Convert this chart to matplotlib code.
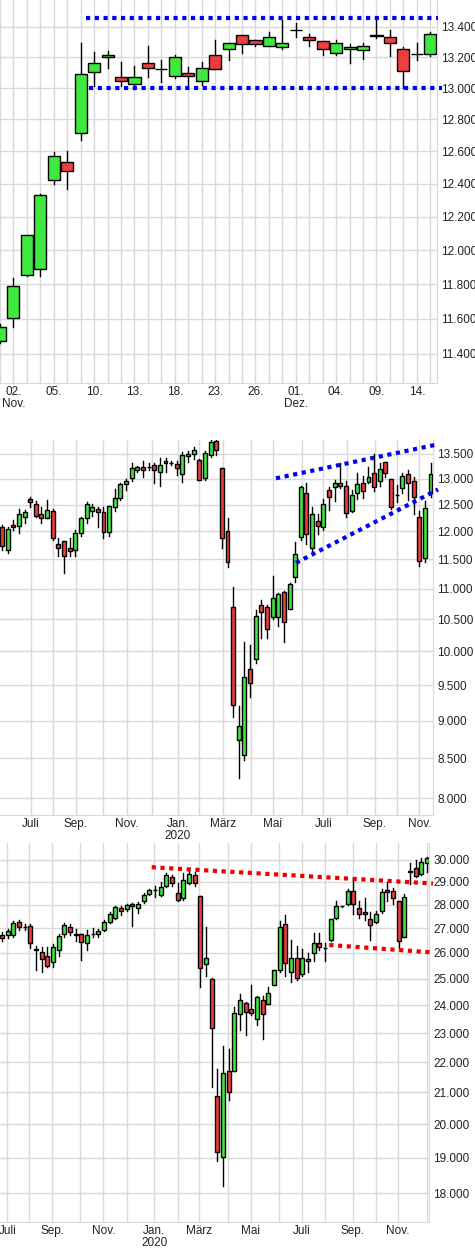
import numpy as np
import matplotlib
matplotlib.use('Agg')
import matplotlib.pyplot as plt
from matplotlib.patches import Rectangle
from matplotlib.ticker import FixedLocator, NullLocator, NullFormatter

plt.rcParams['font.family'] = ['Liberation Sans', 'DejaVu Sans']

GREEN = '#3ee83e'
RED = '#ee3e3e'
GRID = '#d9d9d9'

# Panel 1: daily candles, Oct 30 .. Dec 15
d_open = [11475, 11604, 11855, 11890, 12420, 12535, 12715, 13105, 13200, 13068, 13026, 13165, 13125,
          13080, 13095, 13045, 13213, 13250, 13345, 13310, 13275, 13265, 13375, 13335, 13305, 13225,
          13250, 13245, 13345, 13335, 13250, 13220, 13220]
d_high = [11570, 11837, 12090, 12338, 12595, 12603, 13295, 13235, 13240, 13170, 13140, 13275, 13180,
          13215, 13135, 13170, 13310, 13295, 13345, 13315, 13365, 13445, 13425, 13355, 13305, 13310,
          13285, 13290, 13455, 13375, 13265, 13290, 13365]
d_low = [11460, 11552, 11845, 11845, 12400, 12370, 12670, 13010, 13130, 13015, 12995, 13070, 13040,
         13065, 13020, 13020, 13120, 13180, 13230, 13270, 13270, 13250, 13330, 13270, 13215, 13215,
         13160, 13190, 13325, 13205, 13000, 13180, 13205]
d_close = [11552, 11788, 12090, 12330, 12570, 12480, 13090, 13160, 13213, 13048, 13072, 13130, 13125,
           13200, 13080, 13130, 13120, 13290, 13285, 13285, 13330, 13290, 13375, 13310, 13250, 13295,
           13265, 13275, 13340, 13290, 13110, 13222, 13355]
d_ticks = [1, 4, 7, 10, 13, 16, 19, 22, 25, 28, 31]
d_labels = ['02.\nNov.', '05.', '10.', '13.', '18.', '23.', '26.', '01.\nDez.', '04.', '09.', '14.']
d_yticks = [11400, 11600, 11800, 12000, 12200, 12400, 12600, 12800, 13000, 13200, 13400]

# Panel 2: weekly candles
w_open = [12076, 11670, 12120, 12100, 12260, 12600, 12520, 12320, 12240, 12380, 11770, 11820, 11700,
          11660, 11970, 12250, 12380, 12410, 12360, 11990, 12450, 12630, 12900, 13020, 13170, 13240,
          13240, 13270, 13140, 13360, 13315, 13300, 13090, 13450, 13490, 13370, 13020, 13480, 13770,
          13220, 12010, 10690, 8737, 8540, 9730, 9890, 10730, 10700, 10540, 10540, 10940, 10670, 11200,
          11900, 12720, 11710, 12200, 12090, 12780, 12830, 12910, 12860, 12380, 12720, 12920, 12940,
          13110, 12950, 13330, 12990, 12680, 12820, 13090, 12950, 12260, 11530, 12730]
w_high = [12110, 12090, 12210, 12420, 12390, 12650, 12560, 12450, 12590, 12410, 11880, 11820, 11880,
          12030, 12270, 12550, 12510, 12450, 12450, 12480, 12800, 12920, 13000, 13310, 13260, 13360,
          13310, 13320, 13410, 13420, 13360, 13360, 13540, 13560, 13650, 13390, 13570, 13800, 13790,
          13220, 12250, 11020, 9205, 10140, 10100, 10650, 10820, 10730, 11220, 10930, 10960, 11090,
          11800, 12850, 12920, 12460, 12320, 12610, 12830, 12980, 13320, 12950, 12790, 13110, 13060,
          13230, 13500, 13310, 13330, 12990, 12880, 13110, 13170, 13040, 12370, 12560, 13310]
w_low = [11670, 11620, 12030, 11970, 12160, 12450, 12260, 12150, 12240, 11840, 11560, 11260, 11560,
         11560, 11910, 12150, 12290, 12080, 11880, 11910, 12370, 12590, 12780, 12950, 13130, 13040,
         13180, 12920, 12860, 13130, 13280, 13070, 12930, 13340, 13390, 12970, 12980, 13430, 13480,
         11700, 11360, 9055, 8250, 8480, 9330, 9830, 10200, 10210, 10500, 10400, 10140, 10670, 11120,
         11840, 11780, 11650, 11960, 12030, 12400, 12560, 12810, 12270, 12360, 12610, 12630, 12910,
         12760, 12850, 13040, 12410, 12550, 12720, 12590, 12330, 11380, 11460, 12650]
w_close = [11740, 12040, 12080, 12320, 12360, 12540, 12290, 12250, 12400, 11880, 11710, 11560, 11640,
           11970, 12240, 12520, 12450, 12360, 11990, 12480, 12620, 12890, 12950, 13220, 13230, 13170,
           13245, 13170, 13270, 13310, 13320, 13210, 13470, 13500, 13575, 12980, 13510, 13740, 13580,
           11880, 11460, 9220, 8925, 9620, 9525, 10560, 10620, 10340, 10850, 10910, 10460, 11080, 11590,
           12845, 11950, 12320, 12100, 12520, 12650, 12920, 12850, 12340, 12680, 12900, 12760, 13040,
           12840, 13190, 13110, 12460, 12690, 13050, 12910, 12640, 11480, 12430, 13090]
w_labels = ['Juli', 'Sep.', 'Nov.', 'Jan.\n2020', 'März', 'Mai', 'Juli', 'Sep.', 'Nov.']
w_yticks = [8000, 8500, 9000, 9500, 10000, 10500, 11000, 11500, 12000, 12500, 13000, 13500]

# Panel 3: weekly candles, second index
v_open = [26720, 26730, 26730, 27270, 27060, 27080, 26130, 26030, 25870, 25640, 26100, 26760, 27060,
          26740, 26760, 26420, 26760, 26780, 26920, 27270, 27440, 27850, 27800, 28010, 27870, 28160,
          28470, 28620, 28410, 28830, 29220, 28510, 28280, 28950, 29280, 28370, 25550, 24970, 20900,
          19020, 21690, 21690, 23690, 24080, 23850, 23500, 24210, 24030, 24770, 25330, 27190, 25240,
          25820, 25160, 25690, 26000, 26410, 26190, 26520, 27440, 27920, 28040, 28580, 27850, 27670,
          27400, 27270, 27730, 28640, 28580, 28150, 26640, 29450, 29610, 29330, 29820]
v_high = [26830, 26970, 27300, 27330, 27160, 27160, 26260, 26230, 26230, 26350, 26750, 27230, 27170,
          26970, 26760, 26930, 27000, 26970, 27330, 27690, 27940, 27940, 28040, 28080, 28100, 28490,
          28660, 28820, 28970, 29390, 29320, 28950, 29390, 29550, 29420, 28370, 27070, 25020, 21770,
          22560, 22460, 23950, 24420, 24120, 24770, 24360, 24360, 24680, 25350, 27300, 27540, 26540,
          26260, 26150, 25990, 26800, 26800, 26400, 27400, 28160, 27950, 28680, 29170, 28140, 28300,
          27700, 27730, 28660, 28980, 28730, 28150, 28460, 29820, 29970, 30080, 30120]
v_low = [26500, 26590, 26630, 26940, 26950, 26180, 25340, 25240, 25430, 25460, 25870, 26630, 26740,
         26470, 25730, 26100, 26650, 26650, 26870, 27230, 27390, 27570, 27730, 27100, 27660, 28080,
         28400, 28330, 28350, 28760, 28830, 28150, 28210, 28880, 28830, 24680, 25090, 21180, 18920,
         18210, 20760, 21690, 23100, 22930, 23650, 23290, 22790, 24030, 24770, 25240, 25090, 24870,
         24950, 25110, 25270, 25690, 26130, 25700, 26490, 27370, 27880, 27970, 27590, 27410, 27360,
         26520, 27240, 27660, 28150, 28010, 26210, 26640, 28880, 29210, 29280, 29430]
v_close = [26585, 26880, 27210, 27040, 27070, 26410, 26140, 25750, 25500, 26250, 26680, 27140, 26830,
           26750, 26460, 26740, 26770, 26880, 27270, 27610, 27890, 27740, 27980, 27940, 28020, 28410,
           28620, 28630, 28780, 29320, 28950, 28190, 29070, 29350, 28950, 25390, 25820, 23180, 19170,
           21620, 21020, 23710, 24210, 23750, 23720, 24300, 23690, 24450, 25350, 27070, 25590, 25820,
           25010, 25800, 25760, 26420, 26220, 26200, 27400, 27950, 27930, 28580, 28040, 27580, 27580,
           27140, 27590, 28550, 28550, 28290, 26470, 28310, 29460, 29250, 29880, 30080]
v_labels = ['Juli', 'Sep.', 'Nov.', 'Jan.\n2020', 'März', 'Mai', 'Juli', 'Sep.', 'Nov.']
v_yticks = [18000, 19000, 20000, 21000, 22000, 23000, 24000, 25000, 26000, 27000, 28000, 29000, 30000]


def draw_candles(ax, x0, o, h, l, c, width):
    for i, (op, hi, lo, cl) in enumerate(zip(o, h, l, c)):
        x = x0 + i
        ax.plot([x, x], [lo, hi], color='black', lw=1, zorder=2)
        col = GREEN if cl >= op else RED
        ax.add_patch(Rectangle((x - width / 2, min(op, cl)), width, abs(cl - op),
                               facecolor=col, edgecolor='black', lw=1, zorder=3))


def style(ax, ylim, yticks, xticks, xlabels, minor):
    ax.set_yscale('log')
    ax.set_ylim(*ylim)
    ax.yaxis.set_major_locator(FixedLocator(yticks))
    ax.yaxis.set_minor_locator(NullLocator())
    ax.yaxis.set_minor_formatter(NullFormatter())
    ax.set_yticklabels([f'{v:,}'.replace(',', '.') for v in yticks])
    ax.yaxis.tick_right()
    ax.set_xticks(xticks)
    ax.set_xticklabels(xlabels, linespacing=1.05)
    ax.set_xticks(minor, minor=True)
    ax.tick_params(which='both', length=0, labelsize=8.5, colors='#222222')
    ax.tick_params(axis='y', pad=3)
    ax.tick_params(axis='x', pad=2)
    ax.grid(True, which='both', color=GRID, lw=1, zorder=0)
    for s in ['top', 'left']:
        ax.spines[s].set_visible(False)
    for s in ['right', 'bottom']:
        ax.spines[s].set_color(GRID)


def px_map(n, width_px, first_px, last_px):
    # pixel position inside the axes -> candle index
    step = (last_px - first_px) / (n - 1)
    conv = lambda p: (p - first_px) / step
    return conv, (conv(0), conv(width_px))


fig = plt.figure(figsize=(4.75, 12.5), dpi=100)
H = 1250

ax1 = fig.add_axes([0, 1 - 383 / H, 437 / 475, 383 / H])
draw_candles(ax1, -1, d_open, d_high, d_low, d_close, 0.9)
ax1.plot([5.4, 31.6], [13460, 13460], color='#0000ee', lw=3, ls=(0, (1, 1.1)), zorder=4, clip_on=False)
ax1.plot([5.6, 31.9], [13000, 13000], color='#0000ee', lw=3, ls=(0, (1, 1.1)), zorder=4, clip_on=False)
ax1.set_xlim(-0.61, 31.5)
style(ax1, (11237, 13578), d_yticks, [t - 1 for t in d_ticks], d_labels,
      [i - 1 for i in range(33) if i not in d_ticks])

ax2 = fig.add_axes([0, 1 - 815 / H, 433 / 475, 375 / H])
f2, lim2 = px_map(len(w_open), 433, 2, 430.5)
draw_candles(ax2, 0, w_open, w_high, w_low, w_close, 0.7)
ax2.plot([f2(276), f2(438)], [13010, 13700], color='#0000ee', lw=3, ls=(0, (1, 1.1)), zorder=4, clip_on=False)
ax2.plot([f2(296), f2(438)], [11440, 12790], color='#0000ee', lw=3, ls=(0, (1, 1.1)), zorder=4, clip_on=False)
ax2.set_xlim(*lim2)
w_major = [f2(p) for p in [30.7, 75.7, 126.7, 177.7, 222.7, 272.7, 323.3, 374.7, 419.3]]
w_minor = [f2(p) for p in [53.3, 103.3, 151.7, 199.3, 250.7, 301.7, 346.7, 396.7]]
style(ax2, (7797, 13790), w_yticks, w_major, w_labels, w_minor)

ax3 = fig.add_axes([0, 1 - 1222 / H, 429 / 475, 379 / H])
f3, lim3 = px_map(len(v_open), 429, 2, 427)
draw_candles(ax3, 0, v_open, v_high, v_low, v_close, 0.7)
ax3.plot([f3(151.7), f3(433)], [29650, 28920], color='#ee0000', lw=3, ls=(0, (1, 1.1)), zorder=4, clip_on=False)
ax3.plot([f3(329.3), f3(433)], [26320, 26020], color='#ee0000', lw=3, ls=(0, (1, 1.1)), zorder=4, clip_on=False)
ax3.set_xlim(*lim3)
v_major = [f3(p) for p in [7.3, 52.3, 103.3, 154.3, 199.3, 250.7, 301.7, 352.7, 398]]
v_minor = [f3(p) for p in [29.3, 80, 126.7, 177.7, 228.3, 279.3, 325, 375.7, 426.7]]
style(ax3, (17220, 30770), v_yticks, v_major, v_labels, v_minor)

fig.savefig('out.png', dpi=100)
